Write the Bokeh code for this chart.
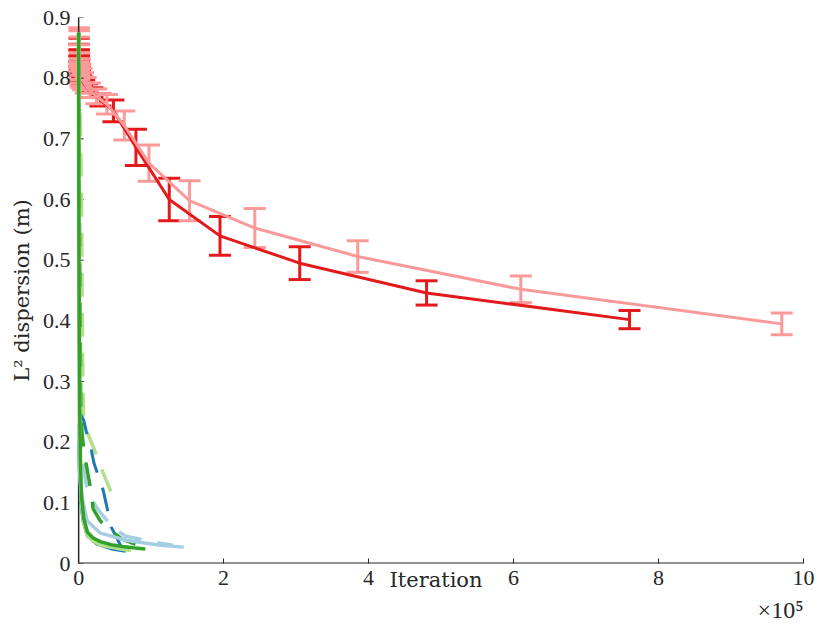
from bokeh.plotting import figure
from bokeh.models import ColumnDataSource, Whisker, TeeHead, Title, FixedTicker
from bokeh.embed import file_html
from bokeh.resources import INLINE

# ---------------- data (x in units of 1e5 iterations) ----------------
red_dark_x = [7.6, 4.8, 3.05, 1.95, 1.25, 0.79, 0.48, 0.30, 0.19, 0.12, 0.076, 0.048, 0.030, 0.019, 0.012, 0.0076, 0.0048, 0.003, 0.0019, 0.0012]
red_dark_y = [0.402, 0.446, 0.495, 0.540, 0.600, 0.686, 0.746, 0.764, 0.776, 0.784, 0.790, 0.795, 0.800, 0.806, 0.812, 0.820, 0.828, 0.837, 0.846, 0.856]
red_dark_e = [0.015, 0.020, 0.027, 0.032, 0.035, 0.030, 0.018, 0.010, 0.008, 0.007, 0.007, 0.007, 0.007, 0.008, 0.008, 0.008, 0.009, 0.010, 0.010, 0.010]

red_light_x = [9.7, 6.1, 3.85, 2.43, 1.53, 0.97, 0.63, 0.39, 0.245, 0.155, 0.097, 0.062, 0.039, 0.0245, 0.0155, 0.0097, 0.0062, 0.0039, 0.0025, 0.0015, 0.001]
red_light_y = [0.395, 0.452, 0.506, 0.553, 0.598, 0.660, 0.722, 0.757, 0.770, 0.780, 0.788, 0.795, 0.800, 0.805, 0.812, 0.820, 0.830, 0.840, 0.848, 0.852, 0.855]
red_light_e = [0.018, 0.022, 0.026, 0.032, 0.033, 0.030, 0.024, 0.016, 0.012, 0.012, 0.013, 0.014, 0.016, 0.018, 0.020, 0.022, 0.025, 0.028, 0.030, 0.030, 0.028]

green_solid_x = [0.0, 0.003, 0.008, 0.015, 0.025, 0.04, 0.07, 0.12, 0.2, 0.3, 0.45, 0.6, 0.75, 0.92]
green_solid_y = [0.875, 0.60, 0.40, 0.25, 0.16, 0.11, 0.075, 0.052, 0.042, 0.036, 0.031, 0.028, 0.026, 0.024]

lgreen_solid_x = [0.0, 0.003, 0.008, 0.015, 0.025, 0.04, 0.07, 0.12, 0.2, 0.3, 0.45, 0.6, 0.72]
lgreen_solid_y = [0.875, 0.58, 0.38, 0.23, 0.15, 0.10, 0.068, 0.047, 0.037, 0.031, 0.027, 0.024, 0.022]

lblue_solid_x = [0.0, 0.004, 0.01, 0.02, 0.035, 0.055, 0.12, 0.3, 0.67, 1.13, 1.45]
lblue_solid_y = [0.23, 0.20, 0.17, 0.14, 0.12, 0.104, 0.070, 0.050, 0.038, 0.030, 0.027]

dblue_solid_x = [0.0, 0.01, 0.03, 0.06, 0.12, 0.25, 0.45, 0.65]
dblue_solid_y = [0.20, 0.15, 0.10, 0.07, 0.045, 0.032, 0.024, 0.020]

green_dash_x = [0.0, 0.01, 0.02, 0.03, 0.05, 0.07, 0.10, 0.17, 0.20, 0.30, 0.40, 0.60, 0.92]
green_dash_y = [0.875, 0.60, 0.40, 0.25, 0.21, 0.19, 0.166, 0.12, 0.09, 0.07, 0.058, 0.040, 0.025]

lgreen_dash_x = [0.0, 0.04, 0.05, 0.06, 0.07, 0.14, 0.21, 0.28, 0.44, 0.55]
lgreen_dash_y = [0.875, 0.60, 0.40, 0.28, 0.236, 0.21, 0.19, 0.166, 0.12, 0.104]

dblue_dash_x = [0.0, 0.03, 0.07, 0.12, 0.17, 0.21, 0.34, 0.45, 0.62]
dblue_dash_y = [0.25, 0.245, 0.236, 0.21, 0.19, 0.166, 0.12, 0.06, 0.02]

lblue_dash_x = [0.0, 0.05, 0.12, 0.26, 0.48, 0.65, 1.0, 1.3]
lblue_dash_y = [0.23, 0.17, 0.12, 0.09, 0.058, 0.045, 0.036, 0.030]

y_ticks = [0, 0.1, 0.2, 0.3, 0.4, 0.5, 0.6, 0.7, 0.8, 0.9]
x_ticks = [0, 2, 4, 6, 8, 10]

# ---------------- colours ----------------
C_RED = "#e31a1c"
C_LRED = "#fb9a99"
C_GREEN = "#33a02c"
C_LGREEN = "#b2df8a"
C_BLUE = "#1f78b4"
C_LBLUE = "#a6cee3"
C_AX = "#262626"
FONT = "Liberation Serif"
LFONT = "DejaVu Serif"
FS = "22px"

X0 = -0.14  # a little room left of x=0 so error-bar caps are not clipped

p = figure(width=822, height=624, x_range=(X0, 10), y_range=(0, 0.9),
           output_backend="svg", toolbar_location=None,
           min_border_left=68, min_border_right=19, min_border_top=17, min_border_bottom=61)
p.outline_line_color = None
p.grid.visible = False
p.background_fill_color = "white"

def errbars(xs, ys, es, color):
    src = ColumnDataSource(dict(x=xs, lo=[y - e for y, e in zip(ys, es)], hi=[y + e for y, e in zip(ys, es)]))
    w = Whisker(source=src, base="x", lower="lo", upper="hi", dimension="height",
                line_color=color, line_width=3,
                upper_head=TeeHead(size=22, line_color=color, line_width=3),
                lower_head=TeeHead(size=22, line_color=color, line_width=3))
    p.add_layout(w)

# red series (dark first, light on top)
errbars(red_dark_x, red_dark_y, red_dark_e, C_RED)
p.line([0.0] + red_dark_x[::-1], [0.87] + red_dark_y[::-1], line_color=C_RED, line_width=3)
errbars(red_light_x, red_light_y, red_light_e, C_LRED)
p.line([0.0] + red_light_x[::-1], [0.87] + red_light_y[::-1], line_color=C_LRED, line_width=3)

# axis lines at x=0 and y=0 (drawn inside the frame)
p.line([0, 0], [0, 0.9], line_color=C_AX, line_width=1.5)
p.line([0, 10], [0, 0], line_color=C_AX, line_width=2)
tick_len = 5 / 72.5
p.segment(x0=[0] * len(y_ticks), x1=[tick_len] * len(y_ticks), y0=y_ticks, y1=y_ticks,
          line_color=C_AX, line_width=1)

# dashed curves
p.line(lblue_dash_x, lblue_dash_y, line_color=C_LBLUE, line_width=3.5, line_dash="24 16")
p.line(lgreen_dash_x, lgreen_dash_y, line_color=C_LGREEN, line_width=3.5, line_dash="24 16")
p.line(dblue_dash_x, dblue_dash_y, line_color=C_BLUE, line_width=3, line_dash="24 16")
p.line(green_dash_x, green_dash_y, line_color=C_GREEN, line_width=3.5, line_dash="24 16", line_dash_offset=10)

# solid curves
p.line(dblue_solid_x, dblue_solid_y, line_color=C_BLUE, line_width=3)
p.line(lblue_solid_x, lblue_solid_y, line_color=C_LBLUE, line_width=3.5)
p.line(lgreen_solid_x, lgreen_solid_y, line_color=C_LGREEN, line_width=4)
p.line(green_solid_x, green_solid_y, line_color=C_GREEN, line_width=3.5)

# axes
p.axis.minor_tick_line_color = None
p.axis.major_label_text_font = FONT
p.axis.major_label_text_font_size = FS
p.axis.major_label_text_color = C_AX
p.axis.axis_label_text_font = LFONT
p.axis.axis_label_text_font_style = "normal"
p.axis.axis_label_text_font_size = "21px"
p.axis.axis_label_text_color = C_AX

p.xaxis.axis_line_color = None
p.xaxis.major_tick_line_color = C_AX
p.xaxis.major_tick_in = 5
p.xaxis.major_tick_out = 0
p.yaxis.axis_line_color = None
p.yaxis.major_tick_line_color = None
p.yaxis.major_tick_in = 0
p.yaxis.major_tick_out = 0

p.xaxis.ticker = FixedTicker(ticks=x_ticks)
p.yaxis.ticker = FixedTicker(ticks=y_ticks)
p.xaxis.major_label_overrides = {t: str(t) for t in x_ticks}
p.yaxis.major_label_overrides = {t: ("0" if t == 0 else f"{t:.1f}") for t in y_ticks}
p.xaxis.major_label_standoff = 7
p.yaxis.major_label_standoff = -2

p.yaxis.axis_label = "L² dispersion (m)"
p.yaxis.axis_label_standoff = 6
p.xaxis.axis_label = "Iteration"
p.xaxis.axis_label_standoff = -20

p.add_layout(Title(text="×10⁵", align="right", text_font=FONT, text_font_size="24px",
                   text_font_style="normal", text_color=C_AX, offset=0, standoff=0), "below")

open("out.html", "w").write(file_html(p, INLINE))
